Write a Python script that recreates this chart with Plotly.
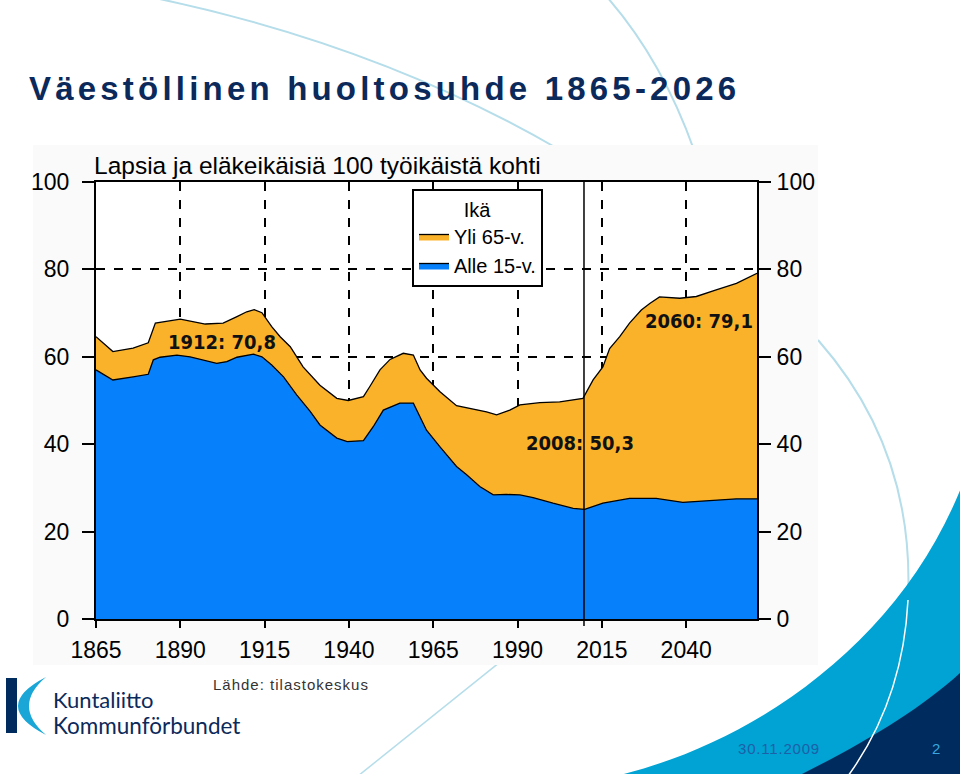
import plotly.graph_objects as go

# ---------------- data ----------------
# Total dependency ratio (children + elderly per 100 working-age people)
total_years = [1865, 1870, 1876, 1880.5, 1882.6, 1887, 1890, 1897.4, 1902.7, 1906.8,
               1909.7, 1911.9, 1914.2, 1917.1, 1919.6, 1922.6, 1926.4, 1931.4, 1936.4,
               1939.8, 1944.3, 1946.2, 1949.2, 1952.2, 1956.1, 1959.1, 1961.1, 1963.0,
               1967.0, 1971.9, 1976.8, 1980.8, 1983.8, 1987.7, 1990.7, 1996.6, 2002.5,
               2009.4, 2012.4, 2015.3, 2017.3, 2020.3, 2023.2, 2026.7, 2029.2, 2032.1,
               2038.1, 2043.0, 2048.9, 2054.9, 2061]
total_values = [64.6, 61.2, 62.0, 63.2, 67.7, 68.3, 68.6, 67.5, 67.7, 69.2,
                70.3, 70.8, 70.1, 66.9, 64.6, 62.3, 57.7, 53.5, 50.5,
                50.0, 50.9, 53.2, 57.0, 59.4, 60.8, 60.4, 57.0, 55.1,
                52.0, 48.8, 48.0, 47.4, 46.7, 47.8, 49.0, 49.5, 49.7,
                50.5, 54.7, 57.7, 61.9, 64.6, 67.7, 70.7, 72.2, 73.7,
                73.4, 73.8, 75.3, 76.8, 79.1]

# Children (under 15) per 100 working-age people
child_years = [1865, 1870, 1876, 1880.5, 1882.0, 1884.0, 1889.0, 1892.9, 1900.8, 1903.8,
               1906.8, 1911.7, 1914.2, 1917.1, 1920.6, 1924.5, 1928.5, 1931.4, 1936.4,
               1939.5, 1944.3, 1947.2, 1950.2, 1955.1, 1959.1, 1963.0, 1967.0, 1971.9,
               1974.9, 1978.8, 1982.8, 1986.7, 1990.7, 1994.6, 2000.5, 2006.5, 2009.9,
               2015.3, 2023.2, 2031.1, 2039.0, 2046.9, 2054.9, 2061]
child_values = [57.0, 54.7, 55.4, 56.0, 59.3, 59.9, 60.4, 60.0, 58.5, 58.9,
                59.9, 60.6, 60.0, 58.1, 55.4, 51.3, 47.5, 44.4, 41.4,
                40.6, 40.8, 44.0, 47.8, 49.4, 49.4, 43.2, 39.4, 34.9,
                33.0, 30.3, 28.4, 28.5, 28.4, 27.8, 26.5, 25.3, 25.1,
                26.5, 27.6, 27.6, 26.7, 27.1, 27.5, 27.5]

x_ticks = [1865, 1890, 1915, 1940, 1965, 1990, 2015, 2040]
y_ticks = [0, 20, 40, 60, 80, 100]
marker_line_year = [2009.7]
callouts = [("1912: 70,8", 1902.4, 63.5), ("2008: 50,3", 2008.4, 40.3), ("2060: 79,1", 2043.9, 68.3)]

series_names = ["Yli 65-v.", "Alle 15-v."]
ORANGE = "#FBB22B"
BLUE = "#0781FB"
NAVY = "#0B2A5B"
CYAN = "#00A3D3"
DEEP = "#002B5E"
LIGHT = "#B5DDEA"

# ---------------- layout geometry ----------------
W, H = 960, 774
ML, MR, MT, MB = 96, 203, 182, 155
PW, PH = W - ML - MR, H - MT - MB


def px(xp):
    return (xp - ML) / PW


def py(yp):
    return (H - MB - yp) / PH


def P(xp, yp):
    return f"{px(xp):.5f},{py(yp):.5f}"


fig = go.Figure()
fig.add_trace(go.Scatter(x=total_years, y=total_values, name=series_names[0],
                         mode="lines", fill="tozeroy", fillcolor=ORANGE,
                         line=dict(color="black", width=1.3)))
fig.add_trace(go.Scatter(x=child_years, y=child_values, name=series_names[1],
                         mode="lines", fill="tozeroy", fillcolor=BLUE,
                         line=dict(color="black", width=1.3)))
fig.add_trace(go.Scatter(x=[None], y=[None], yaxis="y2", showlegend=False, hoverinfo="skip"))

shapes = []
# decorative background curves (behind panel)
shapes.append(dict(type="path", xref="paper", yref="paper", layer="below",
                   path=f"M {P(150,-3)} Q {P(378,44)} {P(560,150)}",
                   line=dict(color=LIGHT, width=2)))
shapes.append(dict(type="path", xref="paper", yref="paper", layer="below",
                   path=f"M {P(607,-3)} Q {P(662,60)} {P(694,150)}",
                   line=dict(color=LIGHT, width=2)))
shapes.append(dict(type="path", xref="paper", yref="paper", layer="below",
                   path=f"M {P(540,630)} Q {P(440,710)} {P(358,776)}",
                   line=dict(color=LIGHT, width=1.5)))
shapes.append(dict(type="path", xref="paper", yref="paper", layer="below",
                   path=f"M {P(818,340)} Q {P(915,450)} {P(908,600)}",
                   line=dict(color=LIGHT, width=2)))
# chart panel and plot background
shapes.append(dict(type="rect", xref="paper", yref="paper", layer="below",
                   x0=px(33), x1=px(818), y0=py(665), y1=py(145),
                   fillcolor="#FAFAFA", line=dict(width=0)))
shapes.append(dict(type="rect", xref="paper", yref="paper", layer="below",
                   x0=0, x1=1, y0=0, y1=1, fillcolor="white", line=dict(width=0)))
# bottom-right swooshes
shapes.append(dict(type="path", xref="paper", yref="paper", layer="below",
                   path=f"M {P(620,775)} C {P(760,740)} {P(900,640)} {P(961,488)} L {P(961,775)} Z",
                   fillcolor=CYAN, line=dict(width=0)))
shapes.append(dict(type="path", xref="paper", yref="paper", layer="below",
                   path=f"M {P(800,775)} C {P(860,745)} {P(920,710)} {P(961,672)} L {P(961,775)} Z",
                   fillcolor=DEEP, line=dict(width=0)))
shapes.append(dict(type="path", xref="paper", yref="paper", layer="below",
                   path=f"M {P(908,600)} Q {P(903,700)} {P(848,776)}",
                   line=dict(color="white", width=1.5)))
# logo mark
shapes.append(dict(type="rect", xref="paper", yref="paper", layer="below",
                   x0=px(6), x1=px(17), y0=py(733), y1=py(678),
                   fillcolor=DEEP, line=dict(width=0)))
shapes.append(dict(type="path", xref="paper", yref="paper", layer="below",
                   path=f"M {P(46,677)} Q {P(-10,706)} {P(46,735)} Q {P(12,706)} {P(46,677)} Z",
                   fillcolor="#1AA7D8", line=dict(width=0)))
# reference year line
shapes.append(dict(type="line", xref="x", yref="paper", layer="above",
                   x0=marker_line_year[0], x1=marker_line_year[0], y0=py(626), y1=1,
                   line=dict(color="black", width=1.5)))

annotations = []
for txt, xv, yv in callouts:
    annotations.append(dict(x=xv, y=yv, xref="x", yref="y", text=f"<b>{txt}</b>",
                            showarrow=False, xanchor="center", yanchor="middle",
                            font=dict(family="DejaVu Sans Condensed, Arial",
                                      size=20, color="#111111")))
annotations.append(dict(x=px(92), y=py(165), xref="paper", yref="paper",
                        text="Lapsia ja eläkeikäisiä 100 työikäistä kohti", showarrow=False,
                        xanchor="left", yanchor="middle",
                        font=dict(family="Liberation Sans, Arial", size=24.5, color="black")))
annotations.append(dict(x=px(27), y=py(89), xref="paper", yref="paper",
                        text='<span style="letter-spacing:4.2px"><b>Väestöllinen huoltosuhde 1865-2026</b></span>',
                        showarrow=False, xanchor="left", yanchor="middle",
                        font=dict(family="Liberation Sans, Arial", size=33, color=NAVY)))
annotations.append(dict(x=px(211), y=py(684), xref="paper", yref="paper",
                        text='<span style="letter-spacing:1px">Lähde: tilastokeskus</span>',
                        showarrow=False, xanchor="left", yanchor="middle",
                        font=dict(family="Liberation Sans, Arial", size=15, color="#333333")))
annotations.append(dict(x=px(51), y=py(699), xref="paper", yref="paper",
                        text="Kuntaliitto", showarrow=False, xanchor="left", yanchor="middle",
                        font=dict(family="Lato, Open Sans", size=22, color=NAVY)))
annotations.append(dict(x=px(51), y=py(725), xref="paper", yref="paper",
                        text="Kommunförbundet", showarrow=False, xanchor="left", yanchor="middle",
                        font=dict(family="Lato, Open Sans", size=22.5, color=NAVY)))
annotations.append(dict(x=px(736), y=py(748), xref="paper", yref="paper",
                        text='<span style="letter-spacing:0.8px">30.11.2009</span>',
                        showarrow=False, xanchor="left", yanchor="middle",
                        font=dict(family="Liberation Sans, Arial", size=15, color="#1D5FA8")))
annotations.append(dict(x=px(936), y=py(748), xref="paper", yref="paper",
                        text="2", showarrow=False, xanchor="center", yanchor="middle",
                        font=dict(family="Liberation Sans, Arial", size=15, color="#3AA6DE")))

tickfont = dict(family="Liberation Sans, Arial", size=23, color="black")
fig.update_layout(
    width=W, height=H,
    margin=dict(l=ML, r=MR, t=MT, b=MB, autoexpand=False),
    paper_bgcolor="white", plot_bgcolor="white",
    shapes=shapes, annotations=annotations,
    showlegend=True,
    legend=dict(x=px(412), y=py(189), xanchor="left", yanchor="top",
                bgcolor="white", bordercolor="black", borderwidth=2,
                font=dict(family="Liberation Sans, Arial", size=20, color="black"),
                title=dict(text="Ikä", side="top center",
                           font=dict(family="Liberation Sans, Arial", size=20, color="black")),
                traceorder="normal", itemwidth=30, tracegroupgap=0),
    xaxis=dict(range=[1865, 2061], tickvals=x_ticks, ticks="outside", ticklen=7,
               tickwidth=2, tickcolor="black", showline=True, linecolor="black",
               linewidth=2, mirror=True, showgrid=True, gridcolor="black",
               griddash="dash", gridwidth=1.5, zeroline=False, tickfont=tickfont,
               ticklabelstandoff=2),
    yaxis=dict(range=[0, 100], tickvals=y_ticks, ticks="outside", ticklen=12,
               tickwidth=2, tickcolor="black", showline=True, linecolor="black",
               linewidth=2, showgrid=True, gridcolor="black", griddash="dash",
               gridwidth=1.5, zeroline=False, tickfont=tickfont, ticklabelstandoff=8),
    yaxis2=dict(range=[0, 100], tickvals=y_ticks, overlaying="y", side="right",
                ticks="outside", ticklen=12, tickwidth=2, tickcolor="black",
                showline=True, linecolor="black", linewidth=2, showgrid=False,
                zeroline=False, tickfont=tickfont, ticklabelstandoff=1),
)

fig.write_html("out.html", config={"displayModeBar": False},
               post_script="document.body.style.margin='0';")
